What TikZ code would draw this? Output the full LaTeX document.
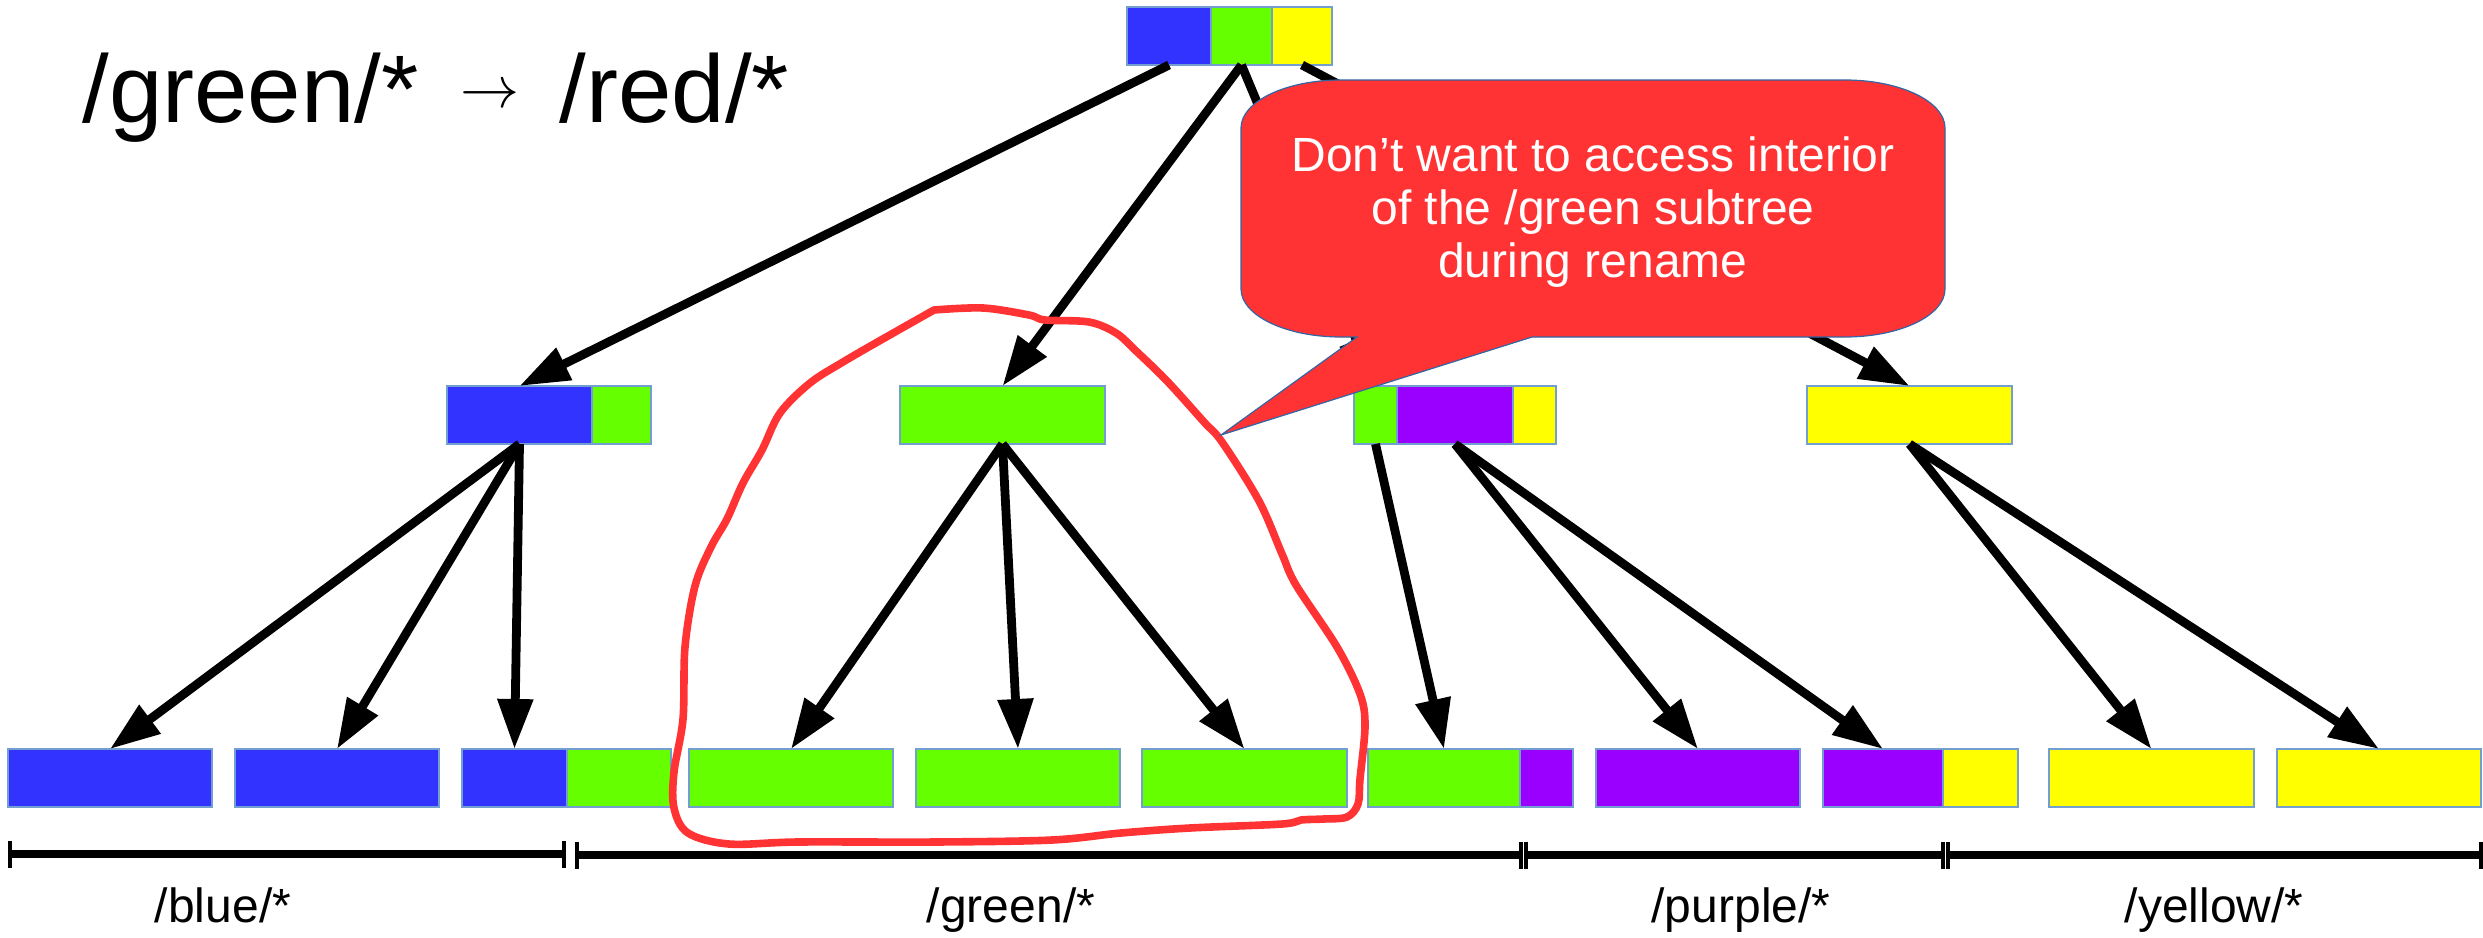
\documentclass[tikz,border=0pt]{standalone}
\usepackage{fontspec}
\setmainfont{Liberation Sans}
\usepackage{graphicx}
\usetikzlibrary{arrows.meta}

\definecolor{cblue}{HTML}{3333FF}
\definecolor{cgreen}{HTML}{66FF00}
\definecolor{cyellow}{HTML}{FFFF00}
\definecolor{cpurple}{HTML}{9900FF}
\definecolor{cred}{HTML}{FF3333}
\definecolor{rim}{HTML}{729FCF}
\definecolor{callrim}{HTML}{3465A4}

% one coloured key segment of a tree block: name, colour, left x, right x, top y
\newcommand\blk[5]{\node[seg, fill=#2, minimum width={(#4-#3)*0.5pt}] (#1) at (#3,#5) {};}

\begin{document}
\begin{tikzpicture}[x=0.5pt,y=-0.5pt,
  seg/.style={draw=rim, line width=0.6pt, inner sep=0pt, outer sep=0pt,
              anchor=north west, minimum height=29pt},
  link/.style={line width=4.4pt, -{Triangle[length=25pt,width=17pt]}},
  span/.style={line width=4.4pt},
  tick/.style={line width=1.8pt},
  lbl/.style={font=\fontsize{24pt}{28pt}\selectfont, anchor=base, inner sep=0pt},
  loop/.style={draw=cred, line width=3.8pt, line join=round, line cap=round},
  bubble/.style={fill=cred, draw=callrim, line width=0.6pt},
]
\useasboundingbox (0,0) rectangle (2483,937);

% title
\node[anchor=base west, inner sep=0pt, font=\fontsize{48pt}{48pt}\selectfont] (title) at (82,122)
  {/green/*\hspace{21pt}\raisebox{7.5pt}{\scalebox{2.95}{\normalsize$\rightarrow$}}\hspace{20pt}/red/*};

% root
\blk{rB}{cblue}{1127}{1211}{7}
\blk{rG}{cgreen}{1211}{1272}{7}
\blk{rY}{cyellow}{1272}{1332}{7}

% inner level
\blk{aB}{cblue}{447}{592}{386}
\blk{aG}{cgreen}{592}{651}{386}
\blk{b}{cgreen}{900}{1105}{386}
\blk{cG}{cgreen}{1354}{1397}{386}
\blk{cP}{cpurple}{1397}{1513}{386}
\blk{cY}{cyellow}{1513}{1556}{386}
\blk{d}{cyellow}{1807}{2012}{386}

% leaves
\blk{l1}{cblue}{8}{212}{749}
\blk{l2}{cblue}{235}{439}{749}
\blk{l3B}{cblue}{462}{567}{749}
\blk{l3G}{cgreen}{567}{671}{749}
\blk{l4}{cgreen}{689}{893}{749}
\blk{l5}{cgreen}{916}{1120}{749}
\blk{l6}{cgreen}{1142}{1347}{749}
\blk{l7G}{cgreen}{1368}{1520}{749}
\blk{l7P}{cpurple}{1520}{1573}{749}
\blk{l8}{cpurple}{1596}{1800}{749}
\blk{l9P}{cpurple}{1823}{1943}{749}
\blk{l9Y}{cyellow}{1943}{2018}{749}
\blk{l10}{cyellow}{2049}{2254}{749}
\blk{l11}{cyellow}{2277}{2481}{749}

% child pointers
\draw[link] (rB.south) -- (aB.north);
\draw[link] (rG.south) -- (b.north);
\draw[link] (rG.south) -- (cG.north);
\draw[link] (rY.south) -- (d.north);

\draw[link] (aB.south) -- (l1.north);
\draw[link] (aB.south) -- (l2.north);
\draw[link] (aB.south) -- (l3B.north);

\draw[link] (b.south) -- (l4.north);
\draw[link] (b.south) -- (l5.north);
\draw[link] (b.south) -- (l6.north);

\draw[link] (cG.south) -- (l7G.north);
\draw[link] (cP.south) -- (l8.north);
\draw[link] (cP.south) -- (l9P.north);

\draw[link] (d.south) -- (l10.north);
\draw[link] (d.south) -- (l11.north);

% hand-drawn outline round the /green subtree
\draw[loop] plot[smooth, tension=0.55] coordinates {
  (934,310) (983,308) (1029,315) (1045,320) (1089,322) (1116,333) (1135,350)
  (1167,381) (1204,422) (1222,442) (1259,501) (1282,554) (1296,585) (1337,647)
  (1360,694) (1365,726) (1360,779) (1358,804) (1347,817) (1324,819) (1301,820)
  (1282,824) (1190,828) (1121,833) (1052,840) (936,842) (798,842) (729,844)
  (688,833) (674,808) (674,772) (683,719) (685,647) (695,586) (711,547)
  (727,519) (743,483) (762,450) (780,413) (810,383) (843,362) (881,340) (934,310)};

% speech bubble
\coordinate (tip) at (1221,435);
\path[bubble] (tip) -- (1532,337) -- (1845,337)
  .. controls (1900.2,337) and (1945,315.5) .. (1945,289) -- (1945,128)
  .. controls (1945,101.5) and (1900.2,80) .. (1845,80) -- (1341,80)
  .. controls (1285.8,80) and (1241,101.5) .. (1241,128) -- (1241,289)
  .. controls (1241,315.5) and (1285.8,337) .. (1341,337) -- (1357,337) -- cycle;
\node[font=\fontsize{24pt}{26.5pt}\selectfont, text=white, align=center, inner sep=0pt]
  (note) at (1593,212.5) {Don’t want to access interior\\of the /green subtree\\during rename};

% key ranges
\coordinate (s1a) at (10,854);   \coordinate (s1b) at (564,854);
\coordinate (s2a) at (577,855);  \coordinate (s2b) at (1521,855);
\coordinate (s3a) at (1526,855); \coordinate (s3b) at (1943,855);
\coordinate (s4a) at (1948,855); \coordinate (s4b) at (2481,855);
\draw[span] (s1a) -- (s1b);
\draw[span] (s2a) -- (s2b);
\draw[span] (s3a) -- (s3b);
\draw[span] (s4a) -- (s4b);
\foreach \c in {s1a,s1b,s2a,s2b,s3a,s3b,s4a,s4b}
  \draw[tick] (\c) ++(0,-13.5) -- ++(0,27);

\node[lbl] (lblue) at (223,922) {/blue/*};
\node[lbl] (lgreen) at (1011,922) {/green/*};
\node[lbl] (lpurple) at (1741,922) {/purple/*};
\node[lbl] (lyellow) at (2214,922) {/yellow/*};
\end{tikzpicture}
\end{document}
